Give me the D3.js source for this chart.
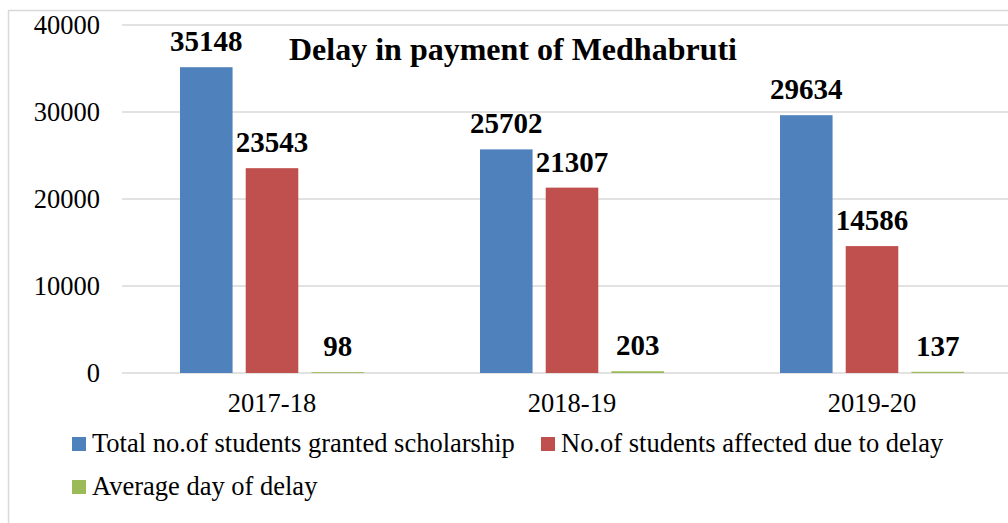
<!DOCTYPE html>
<html>
<head>
<meta charset="utf-8">
<script src="https://cdn.jsdelivr.net/npm/d3@7"></script>
<style>
  body { margin: 0; background: #fff; }
  text { font-family: "Liberation Serif", "Times New Roman", serif; fill: #000; }
</style>
</head>
<body>
<div id="chart"></div>
<script>
// Data
const years = ["2017-18", "2018-19", "2019-20"];
const seriesNames = [
  "Total no.of students granted scholarship",
  "No.of students affected due to delay",
  "Average day of delay"
];
const granted = [35148, 25702, 29634];
const affected = [23543, 21307, 14586];
const avgDelay = [98, 203, 137];
const yTicks = [0, 10000, 20000, 30000, 40000];
const colors = ["#4F81BD", "#C0504D", "#9BBB59"];

const W = 1008, H = 523;
const plot = {left: 122, right: 1022, top: 25, bottom: 373};

const svg = d3.select("#chart").append("svg")
  .attr("width", W).attr("height", H);

// chart frame
svg.append("rect")
  .attr("x", 8.5).attr("y", 10.5)
  .attr("width", W + 20).attr("height", H + 20)
  .attr("fill", "none").attr("stroke", "#d9d9d9").attr("stroke-width", 1.5);

const x0 = d3.scaleBand().domain(years).range([plot.left, plot.right]);
const x1 = d3.scaleBand().domain(d3.range(3))
  .range([58, x0.bandwidth() - 58]).paddingInner(0.2);
const y = d3.scaleLinear().domain([0, 40000]).range([plot.bottom, plot.top]);

// gridlines
svg.append("g").selectAll("line").data(yTicks).join("line")
  .attr("x1", plot.left).attr("x2", W)
  .attr("y1", d => y(d)).attr("y2", d => y(d))
  .attr("stroke", "#d9d9d9").attr("stroke-width", 1.5);

// y tick labels
svg.append("g").selectAll("text").data(yTicks).join("text")
  .attr("x", 100).attr("y", d => y(d))
  .attr("dy", "0.33em")
  .attr("text-anchor", "end")
  .style("font-size", "26.5px")
  .text(d => d);

const rows = years.map((yr, i) => ({year: yr, values: [granted[i], affected[i], avgDelay[i]]}));

const groups = svg.append("g").selectAll("g").data(rows).join("g")
  .attr("transform", d => `translate(${x0(d.year)},0)`);

groups.selectAll("rect").data(d => d.values).join("rect")
  .attr("x", (d, i) => x1(i))
  .attr("width", x1.bandwidth())
  .attr("y", d => y(d))
  .attr("height", d => y(0) - y(d))
  .attr("fill", (d, i) => colors[i]);

groups.selectAll("text.val").data(d => d.values).join("text")
  .attr("class", "val")
  .attr("x", (d, i) => x1(i) + x1.bandwidth() / 2)
  .attr("y", d => y(d) - 16)
  .attr("text-anchor", "middle")
  .style("font-size", "29px")
  .style("font-weight", "bold")
  .text(d => d);

// x labels
svg.append("g").selectAll("text").data(years).join("text")
  .attr("x", d => x0(d) + x0.bandwidth() / 2)
  .attr("y", 412)
  .attr("text-anchor", "middle")
  .style("font-size", "26.5px")
  .text(d => d);

// title
svg.append("text")
  .attr("x", 513).attr("y", 60)
  .attr("text-anchor", "middle")
  .style("font-size", "32px")
  .style("font-weight", "bold")
  .text("Delay in payment of Medhabruti");

// legend
const legendPos = [[72, 452], [541, 452], [72, 495]];
const legend = svg.append("g").selectAll("g").data(seriesNames).join("g")
  .attr("transform", (d, i) => `translate(${legendPos[i][0]},${legendPos[i][1]})`);
legend.append("rect")
  .attr("x", 0).attr("y", -15).attr("width", 14).attr("height", 14)
  .attr("fill", (d, i) => colors[i]);
legend.append("text")
  .attr("x", 20).attr("y", 0)
  .style("font-size", "26.5px")
  .text(d => d);
</script>
</body>
</html>
